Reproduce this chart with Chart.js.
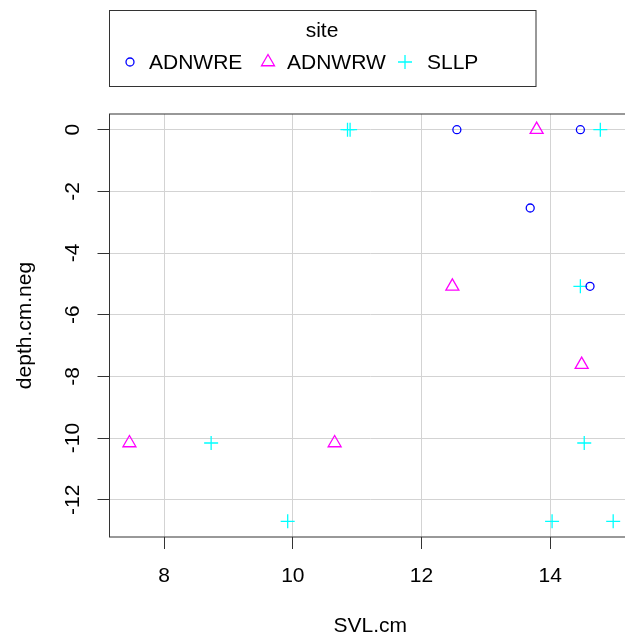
<!DOCTYPE html>
<html>
<head>
<meta charset="utf-8">
<script src="https://cdn.jsdelivr.net/npm/chart.js@4/dist/chart.umd.min.js"></script>
<style>
  html, body { margin: 0; padding: 0; background: #fff; overflow: hidden; }
  #wrap { width: 625px; height: 637px; overflow: hidden; }
</style>
</head>
<body>
<div id="wrap"><canvas id="plot" width="640" height="637"></canvas></div>
<script>
const siteNames = ["ADNWRE", "ADNWRW", "SLLP"];
const siteColors = ["#0000FF", "#FF00FF", "#00FFFF"];
const siteShapes = ["circle", "triangle", "cross"];
const siteRadius = [4, 7.5, 7];

// SVL.cm and depth.cm.neg per site
const adnwreSvl = [12.55, 14.47, 13.69, 14.62];
const adnwreDepth = [0, 0, -2.54, -5.08];
const adnwrwSvl = [13.79, 12.48, 14.49, 7.46, 10.65];
const adnwrwDepth = [0, -5.08, -7.62, -10.16, -10.16];
const sllpSvl = [10.85, 10.89, 14.78, 14.47, 8.73, 9.92, 14.03, 14.98, 14.53];
const sllpDepth = [0, 0, 0, -5.08, -10.16, -12.7, -12.7, -12.7, -10.16];

const xTicks = [8, 10, 12, 14];
const yTicks = [0, -2, -4, -6, -8, -10, -12];

const FONT = '"Liberation Sans", Arial, sans-serif';

function pairs(xs, ys) {
  return xs.map((x, i) => ({ x, y: ys[i] }));
}

const series = [pairs(adnwreSvl, adnwreDepth), pairs(adnwrwSvl, adnwrwDepth), pairs(sllpSvl, sllpDepth)];

const datasets = series.map((data, i) => ({
  label: siteNames[i],
  data,
  pointStyle: siteShapes[i],
  pointRadius: siteRadius[i],
  pointHoverRadius: siteRadius[i],
  borderColor: siteColors[i],
  backgroundColor: "rgba(0,0,0,0)",
  pointBorderWidth: 1.3,
}));

function drawMark(ctx, style, radius, color, x, y) {
  const opts = { pointStyle: style, radius, borderWidth: 1.3, rotation: 0 };
  ctx.save();
  ctx.strokeStyle = color;
  ctx.fillStyle = "rgba(0,0,0,0)";
  ctx.lineWidth = 1.3;
  Chart.helpers.drawPoint(ctx, opts, x, y);
  ctx.restore();
}

const boxAndLegend = {
  id: "boxAndLegend",
  afterDraw(chart) {
    const ctx = chart.ctx;
    const a = chart.chartArea;
    ctx.save();
    ctx.strokeStyle = "#333";
    ctx.lineWidth = 1;
    ctx.strokeRect(a.left, a.top, a.right - a.left, a.bottom - a.top);

    // legend box
    ctx.strokeRect(109.5, 10.5, 426.5, 76);
    ctx.fillStyle = "#000";
    ctx.font = `21px ${FONT}`;
    ctx.textBaseline = "middle";
    ctx.textAlign = "center";
    ctx.fillText("site", 322, 31);
    ctx.textAlign = "left";
    const markX = [130, 268, 405];
    const textX = [149, 287, 427];
    chart.data.datasets.forEach((ds, i) => {
      drawMark(ctx, ds.pointStyle, ds.pointRadius, ds.borderColor, markX[i], 62);
      ctx.fillStyle = "#000";
      ctx.fillText(ds.label, textX[i], 63);
    });
    ctx.restore();
  },
};

new Chart(document.getElementById("plot"), {
  type: "scatter",
  data: { datasets },
  options: {
    responsive: false,
    devicePixelRatio: 1,
    animation: false,
    layout: { padding: { top: 114, right: 2, left: 0, bottom: 0 } },
    plugins: { legend: { display: false }, tooltip: { enabled: false } },
    scales: {
      x: {
        type: "linear",
        min: 7.15,
        max: 15.26,
        afterFit: (s) => { s.height = 100; },
        afterBuildTicks: (s) => { s.ticks = xTicks.map((v) => ({ value: v })); },
        border: { display: false },
        grid: { color: "#d3d3d3", lineWidth: 1, tickColor: "#333", tickLength: 12, drawTicks: true },
        ticks: { color: "#000", font: { family: FONT, size: 21 }, padding: 15, maxRotation: 0, autoSkip: false, includeBounds: false },
        title: { display: true, text: "SVL.cm", color: "#000", font: { family: FONT, size: 21, lineHeight: 1 }, padding: 0 },
      },
      y: {
        type: "linear",
        min: -13.208,
        max: 0.508,
        afterFit: (s) => { s.width = 109.5; },
        afterBuildTicks: (s) => { s.ticks = yTicks.map((v) => ({ value: v })); },
        border: { display: false },
        grid: { color: "#d3d3d3", lineWidth: 1, tickColor: "#333", tickLength: 12, drawTicks: true },
        ticks: { color: "#000", font: { family: FONT, size: 21 }, padding: 9, minRotation: 90, maxRotation: 90, crossAlign: "center", autoSkip: false, includeBounds: false },
        title: { display: true, text: "depth.cm.neg", color: "#000", font: { family: FONT, size: 21, lineHeight: 1 }, padding: { top: 14.5, bottom: 0 } },
      },
    },
  },
  plugins: [boxAndLegend],
});
</script>
</body>
</html>
